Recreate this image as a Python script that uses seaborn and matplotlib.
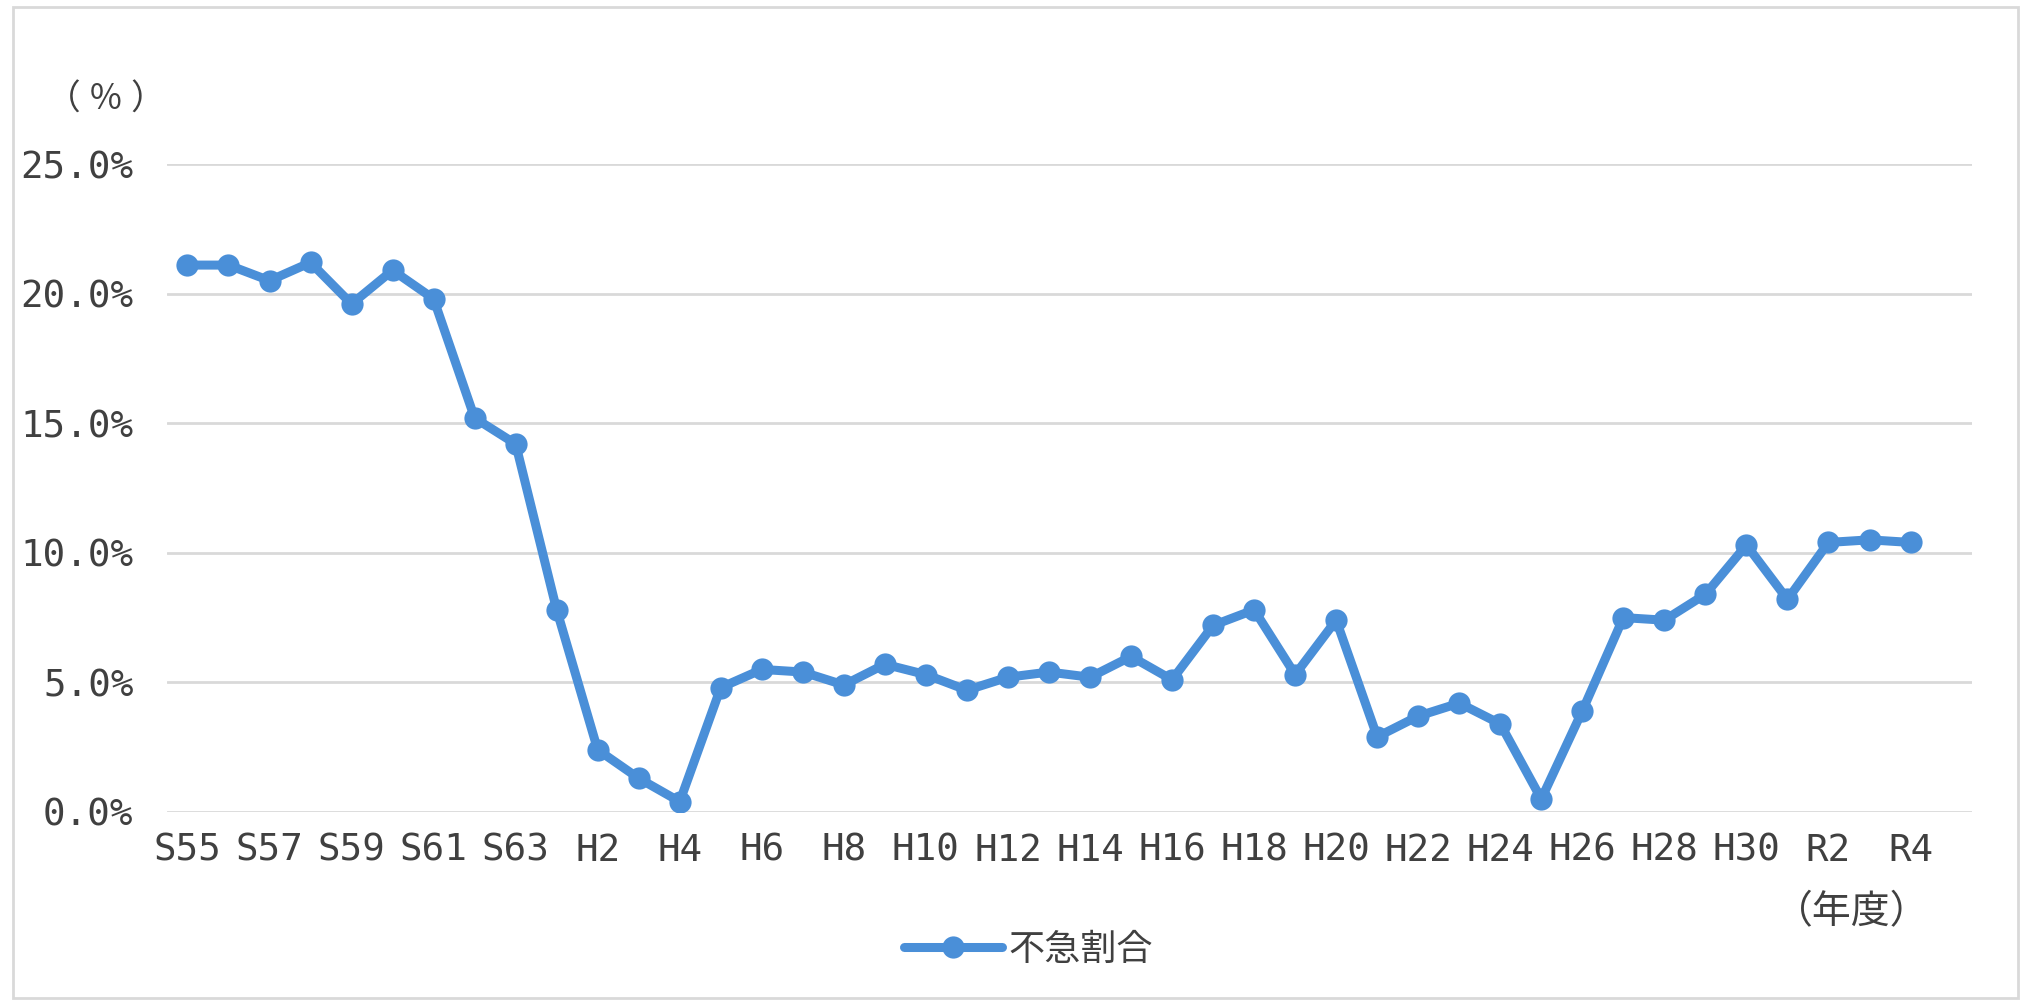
import matplotlib
matplotlib.use("Agg")
import matplotlib.pyplot as plt
import seaborn as sns
import pandas as pd
from matplotlib.patches import Rectangle

# fiscal years S55 (1980) .. R4 (2022)
years = (["S55", "S56", "S57", "S58", "S59", "S60", "S61", "S62", "S63"]
         + [f"H{i}" for i in range(1, 31)]
         + ["R1", "R2", "R3", "R4"])
ratio = [21.1, 21.1, 20.5, 21.2, 19.6, 20.9, 19.8, 15.2, 14.2,
         7.8, 2.4, 1.3, 0.4, 4.8, 5.5, 5.4, 4.9, 5.7, 5.3,
         4.7, 5.2, 5.4, 5.2, 6.0, 5.1, 7.2, 7.8, 5.3, 7.4,
         2.9, 3.7, 4.2, 3.4, 0.5, 3.9, 7.5, 7.4, 8.4, 10.3,
         8.2, 10.4, 10.5, 10.4]
y_ticks = [0, 5, 10, 15, 20, 25]
series_name = "不急割合"

df = pd.DataFrame({"pos": range(len(years)), "year": years, "ratio": ratio})

sns.set_theme(style="white")
plt.rcParams["font.family"] = ["DejaVu Sans Mono", "Noto Sans CJK JP"]
cjk = ["Noto Sans CJK JP", "DejaVu Sans"]

blue = "#4A8FD8"
text_col = "#404040"

fig = plt.figure(figsize=(20.21, 10), dpi=100)
ax = fig.add_axes([0.0826, 0.188, 0.9758 - 0.0826, 0.836 - 0.188])

sns.lineplot(data=df, x="pos", y="ratio", ax=ax, color=blue, linewidth=6.5,
             marker="o", markersize=16, markeredgewidth=0, label=series_name)

ax.set_xlim(-0.5, len(years) + 0.5)
ax.set_ylim(0, 25)
ax.set_yticks(y_ticks)
ax.set_yticklabels([f"{v:.1f}%" for v in y_ticks])
ax.set_xticks(df["pos"][::2])
ax.set_xticklabels(df["year"][::2])
ax.set_xlabel("")
ax.set_ylabel("")
ax.grid(axis="y", color="#D9D9D9", linewidth=2)
ax.grid(axis="x", visible=False)
for s in ax.spines.values():
    s.set_visible(False)
ax.tick_params(axis="y", length=0, pad=24, labelsize=27, labelcolor=text_col)
ax.tick_params(axis="x", length=0, pad=15, labelsize=27, labelcolor=text_col)

fig.text(106 / 2021, 1 - 100 / 1000, "（ ％ ）", ha="center", va="center",
         fontsize=25, color=text_col, family=cjk)
fig.text(1852 / 2021, 1 - 912 / 1000, "（年度）", ha="center", va="center",
         fontsize=28, color=text_col, family=cjk)

ax.legend(loc="center", bbox_to_anchor=(0.509, 0.05),
          bbox_transform=fig.transFigure, frameon=False,
          prop={"family": cjk, "size": 26},
          handlelength=2.7, numpoints=1, labelcolor=text_col,
          handletextpad=0.2)

fig.add_artist(Rectangle((13 / 2021, 0.002), (2018 - 13) / 2021, 0.991,
                         transform=fig.transFigure, fill=False,
                         edgecolor="#D9D9D9", linewidth=2))

fig.savefig("out.png", dpi=100)
